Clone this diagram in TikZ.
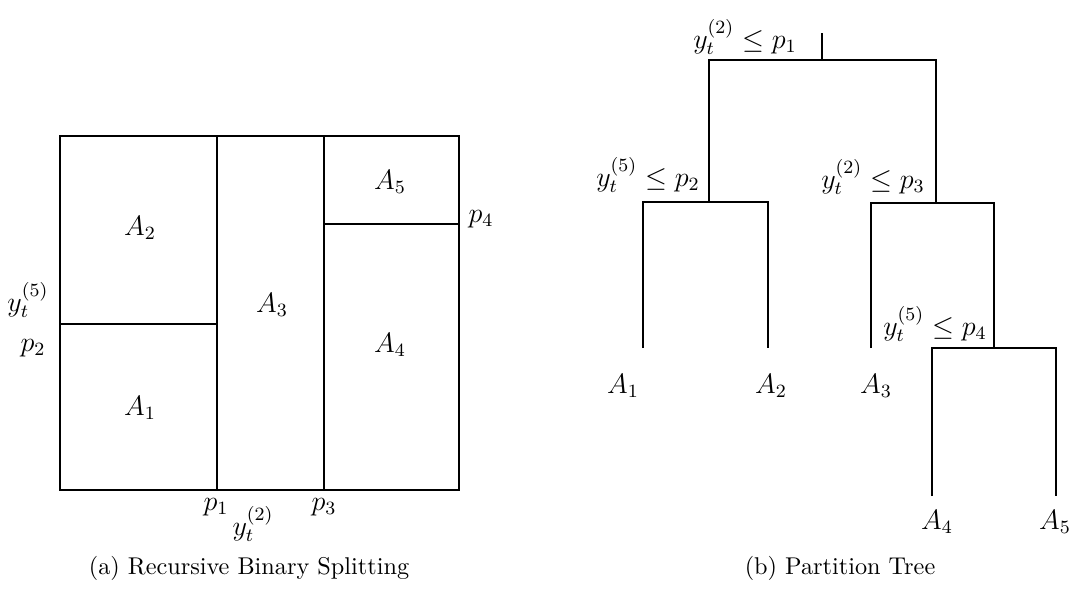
\documentclass[tikz,border=0pt]{standalone}
\usepackage{amsmath}
\usetikzlibrary{positioning}

\begin{document}
\begin{tikzpicture}[
  x=0.47pt, y=-0.47pt,
  edge/.style={line width=0.9pt},
  region/.style={font=\large, scale=1.1, inner sep=1pt},
  cut/.style={font=\large, scale=1.1, inner sep=1pt},
  cond/.style={font=\large, scale=1.1, inner sep=1pt},
  leaf/.style={font=\large, scale=1.1, inner sep=1pt},
  capt/.style={font=\normalsize, scale=1.14, inner sep=1pt}
]
\useasboundingbox (0,0) rectangle (1070,589);

% (a) partition of the plane
\coordinate (bl) at (60,490);
\coordinate (tr) at (459,136);
\coordinate (s1b) at (217,490);
\coordinate (s1t) at (217,136);
\coordinate (s3b) at (324,490);
\coordinate (s3t) at (324,136);
\coordinate (s2l) at (60,324);
\coordinate (s2r) at (217,324);
\coordinate (s4l) at (324,224);
\coordinate (s4r) at (459,224);

\draw[edge] (bl) rectangle (tr);
\draw[edge] (s1b) -- (s1t);
\draw[edge] (s3b) -- (s3t);
\draw[edge] (s2l) -- (s2r);
\draw[edge] (s4l) -- (s4r);

\node[region] (rA1) at (140,408) {$A_1$};
\node[region] (rA2) at (140,228) {$A_2$};
\node[region] (rA3) at (272,305) {$A_3$};
\node[region] (rA4) at (390,345) {$A_4$};
\node[region] (rA5) at (390,182) {$A_5$};

\node[cut] (cp1) at (216,507) {$p_1$};
\node[cut] (cp3) at (324,507) {$p_3$};
\node[cut] (cy2) at (253,524) {$y_t^{(2)}$};
\node[cut] (cy5) at (28,300) {$y_t^{(5)}$};
\node[cut] (cp2) at (33,348) {$p_2$};
\node[cut] (cp4) at (481,219) {$p_4$};

% (b) the tree
\coordinate (top) at (822,33);
\coordinate (root) at (822,60);
\coordinate (L) at (709,60);
\coordinate (R) at (936,60);
\coordinate (Lb) at (709,202);
\coordinate (Rb) at (936,203);
\coordinate (LL) at (643,202);
\coordinate (LR) at (768,202);
\coordinate (LLb) at (643,348);
\coordinate (LRb) at (768,348);
\coordinate (RL) at (871,203);
\coordinate (RR) at (994,203);
\coordinate (RLb) at (871,348);
\coordinate (RRb) at (994,348);
\coordinate (RRL) at (932,348);
\coordinate (RRR) at (1056,348);
\coordinate (RRLb) at (932,496);
\coordinate (RRRb) at (1056,496);

\draw[edge] (top) -- (root);
\draw[edge] (Lb) -- (L) -- (R) -- (Rb);
\draw[edge] (LLb) -- (LL) -- (LR) -- (LRb);
\draw[edge] (RLb) -- (RL) -- (RR) -- (RRb);
\draw[edge] (RRLb) -- (RRL) -- (RRR) -- (RRRb);

\node[cond] (c1) at (745,37) {$y_t^{(2)} \leq p_1$};
\node[cond] (c2) at (648,175) {$y_t^{(5)} \leq p_2$};
\node[cond] (c3) at (873,177) {$y_t^{(2)} \leq p_3$};
\node[cond] (c4) at (935,324) {$y_t^{(5)} \leq p_4$};

\node[leaf] (tA1) at (623,386) {$A_1$};
\node[leaf] (tA2) at (771,386) {$A_2$};
\node[leaf] (tA3) at (876,386) {$A_3$};
\node[leaf] (tA4) at (937,522) {$A_4$};
\node[leaf] (tA5) at (1055,522) {$A_5$};

\node[capt] (capa) at (249,568) {(a) Recursive Binary Splitting};
\node[capt] (capb) at (840,568) {(b) Partition Tree};
\end{tikzpicture}
\end{document}
